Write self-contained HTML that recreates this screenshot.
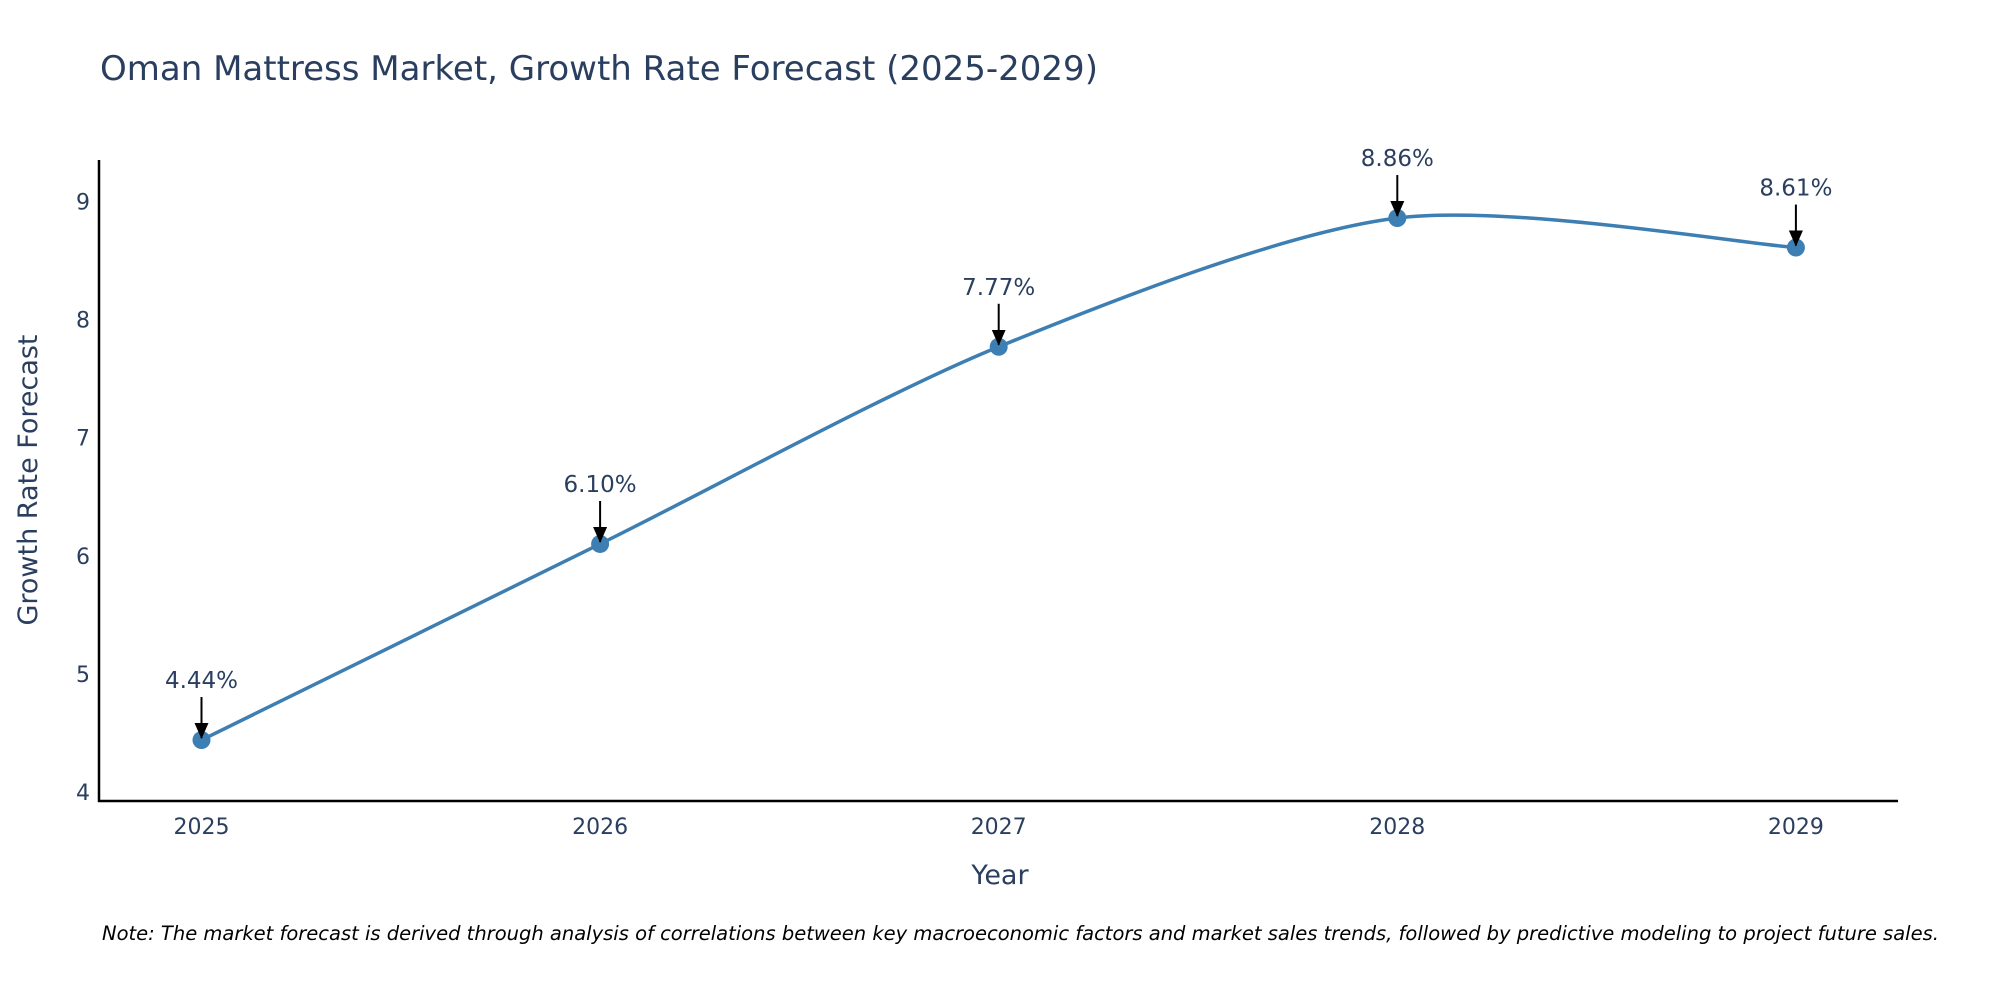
<!DOCTYPE html>
<html><head><meta charset="utf-8"><style>
body{margin:0;background:#fff;}
svg{display:block;font-family:"DejaVu Sans","Liberation Sans",sans-serif;}
</style></head><body>
<svg id="chart" width="2000" height="1000">
<text x="100" y="80" font-size="34" fill="#2a3f5f">Oman Mattress Market, Growth Rate Forecast (2025-2029)</text>
<g id="yticks"></g><g id="xticks"></g>
<line x1="99" y1="160" x2="99" y2="802" stroke="#000" stroke-width="2.5"/>
<line x1="98" y1="801" x2="1898" y2="801" stroke="#000" stroke-width="2.5"/>
<path id="line" fill="none" stroke="#3d7eb3" stroke-width="3.5"/>
<g id="marks"></g>
<text transform="translate(37,480) rotate(-90)" text-anchor="middle" font-size="27" fill="#2a3f5f">Growth Rate Forecast</text>
<text x="1000" y="884" text-anchor="middle" font-size="27" fill="#2a3f5f">Year</text>
<text x="102" y="940" font-size="19.5" font-style="italic" fill="#000">Note: The market forecast is derived through analysis of correlations between key macroeconomic factors and market sales trends, followed by predictive modeling to project future sales.</text>
<defs><marker id="ah" markerWidth="16" markerHeight="14" refX="15" refY="7" orient="auto" markerUnits="userSpaceOnUse" viewBox="0 0 16 14"><path d="M0,0 L16,7 L0,14 z" fill="#000"/></marker></defs>
</svg>
<script>
const years=[2025,2026,2027,2028,2029];
const values=[4.44,6.10,7.77,8.86,8.61];
const labels=["4.44%","6.10%","7.77%","8.86%","8.61%"];
const yTicks=[4,5,6,7,8,9];
const NS="http://www.w3.org/2000/svg";
const xs=y=>201.5+(y-2025)*398.6;
const ys=v=>792-(v-4)*118.1;
function mk(t,a,p){const e=document.createElementNS(NS,t);for(const k in a)e.setAttribute(k,a[k]);p.appendChild(e);return e;}
const yt=document.getElementById('yticks');
yTicks.forEach(v=>{const t=mk('text',{x:90,y:ys(v)+8,'text-anchor':'end','font-size':22,fill:'#2a3f5f'},yt);

t.textContent=v;});
const xt=document.getElementById('xticks');
years.forEach(y=>{const t=mk('text',{x:xs(y),y:834,'text-anchor':'middle','font-size':22,fill:'#2a3f5f'},xt);

t.textContent=y;});
const P=years.map((y,i)=>[xs(y),ys(values[i])]);
let d='M'+P[0][0]+','+P[0][1];const s=0.28;
for(let i=0;i<P.length-1;i++){const p0=P[Math.max(i-1,0)],p1=P[i],p2=P[i+1],p3=P[Math.min(i+2,P.length-1)];
const c1=[p1[0]+(p2[0]-p0[0])*s/2,p1[1]+(p2[1]-p0[1])*s/2];
const c2=[p2[0]-(p3[0]-p1[0])*s/2,p2[1]-(p3[1]-p1[1])*s/2];
d+=' C'+c1+' '+c2+' '+p2;}
document.getElementById('line').setAttribute('d',d);
const g=document.getElementById('marks');
P.forEach((p,i)=>{const c=mk('circle',{cx:p[0],cy:p[1],r:9,fill:'#3d7eb3'},g);


const a=mk('line',{x1:p[0],y1:p[1]-43,x2:p[0],y2:p[1]-2,stroke:'#000','stroke-width':2,'marker-end':'url(#ah)'},g);


const t=mk('text',{x:p[0],y:p[1]-52,'text-anchor':'middle','font-size':23,fill:'#2a3f5f'},g);

t.textContent=labels[i];});
</script>
</body></html>
